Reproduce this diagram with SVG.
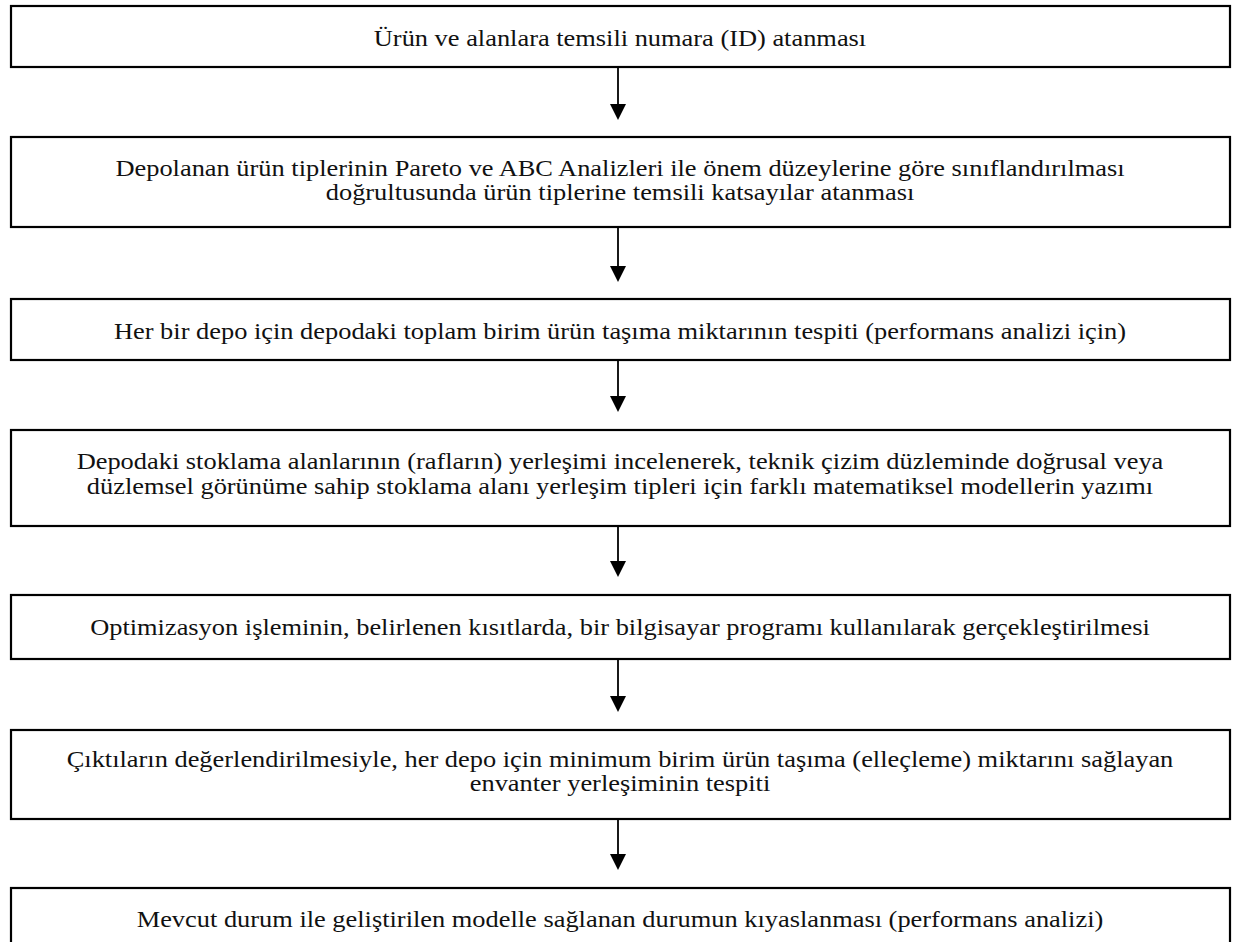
<svg xmlns="http://www.w3.org/2000/svg" width="1236" height="942" viewBox="0 0 1236 942">
<defs>
<style>
.box{fill:#ffffff;stroke:#000000;stroke-width:2.2}
.t{font-family:"Liberation Serif","Times New Roman",serif;font-size:24px;fill:#111111;text-anchor:middle}
.c{stroke:#000000;stroke-width:1.8;fill:none}
</style>
<marker id="ah" viewBox="0 0 16 16" refX="0" refY="8" markerWidth="16" markerHeight="16" markerUnits="userSpaceOnUse" orient="auto">
<path d="M0,0 L16,8 L0,16 z" fill="#000000"/>
</marker>
</defs>
<rect width="1236" height="942" fill="#ffffff"/>
<g id="connectors">
<line class="c" x1="618" y1="67" x2="618" y2="104" marker-end="url(#ah)"/>
<line class="c" x1="618" y1="227" x2="618" y2="266" marker-end="url(#ah)"/>
<line class="c" x1="618" y1="360" x2="618" y2="396" marker-end="url(#ah)"/>
<line class="c" x1="618" y1="526" x2="618" y2="561" marker-end="url(#ah)"/>
<line class="c" x1="618" y1="659" x2="618" y2="696" marker-end="url(#ah)"/>
<line class="c" x1="618" y1="819" x2="618" y2="854" marker-end="url(#ah)"/>
</g>
<g id="n1">
<rect class="box" x="11" y="6" width="1219" height="61"/>
<text class="t" transform="matrix(1.1,0,0,1,-62,0)" x="620" y="46">Ürün ve alanlara temsili numara (ID) atanması</text>
</g>
<g id="n2">
<rect class="box" x="11" y="137" width="1219" height="90"/>
<text class="t" transform="matrix(1.1,0,0,1,-62,0)" x="620" y="176">Depolanan ürün tiplerinin Pareto ve ABC Analizleri ile önem düzeylerine göre sınıflandırılması</text>
<text class="t" transform="matrix(1.1,0,0,1,-62,0)" x="620" y="200">doğrultusunda ürün tiplerine temsili katsayılar atanması</text>
</g>
<g id="n3">
<rect class="box" x="11" y="299" width="1219" height="61"/>
<text class="t" transform="matrix(1.1,0,0,1,-62,0)" x="620" y="339">Her bir depo için depodaki toplam birim ürün taşıma miktarının tespiti (performans analizi için)</text>
</g>
<g id="n4">
<rect class="box" x="11" y="430" width="1219" height="96"/>
<text class="t" transform="matrix(1.1,0,0,1,-62,0)" x="620" y="469">Depodaki stoklama alanlarının (rafların) yerleşimi incelenerek, teknik çizim düzleminde doğrusal veya</text>
<text class="t" transform="matrix(1.1,0,0,1,-62,0)" x="620" y="494">düzlemsel görünüme sahip stoklama alanı yerleşim tipleri için farklı matematiksel modellerin yazımı</text>
</g>
<g id="n5">
<rect class="box" x="11" y="595" width="1219" height="64"/>
<text class="t" transform="matrix(1.1,0,0,1,-62,0)" x="620" y="635">Optimizasyon işleminin, belirlenen kısıtlarda, bir bilgisayar programı kullanılarak gerçekleştirilmesi</text>
</g>
<g id="n6">
<rect class="box" x="11" y="730" width="1219" height="89"/>
<text class="t" transform="matrix(1.1,0,0,1,-62,0)" x="620" y="767">Çıktıların değerlendirilmesiyle, her depo için minimum birim ürün taşıma (elleçleme) miktarını sağlayan</text>
<text class="t" transform="matrix(1.1,0,0,1,-62,0)" x="620" y="791">envanter yerleşiminin tespiti</text>
</g>
<g id="n7">
<rect class="box" x="11" y="888" width="1219" height="70"/>
<text class="t" transform="matrix(1.1,0,0,1,-62,0)" x="620" y="927">Mevcut durum ile geliştirilen modelle sağlanan durumun kıyaslanması (performans analizi)</text>
</g>
</svg>
